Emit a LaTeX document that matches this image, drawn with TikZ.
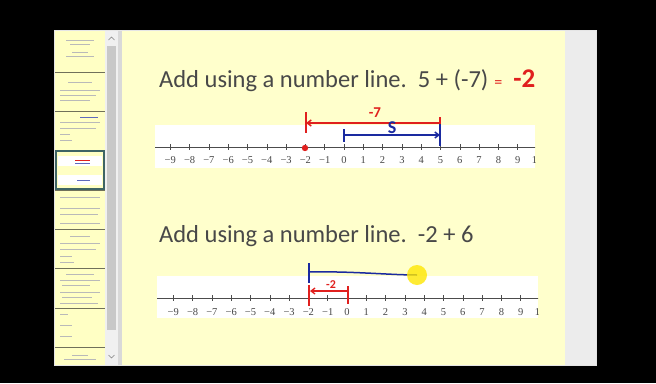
\documentclass[tikz,border=0pt]{standalone}
\usepackage{fontspec}
\setmainfont{Carlito}
\newfontfamily\numfont{Liberation Serif}
\usetikzlibrary{arrows.meta}
\definecolor{slideyellow}{HTML}{FFFFCC}
\definecolor{titlegray}{HTML}{484848}
\definecolor{penred}{HTML}{E0201E}
\definecolor{penblue}{HTML}{1A2AA0}
\definecolor{panelgray}{HTML}{ECECEC}
\definecolor{thumbyellow}{HTML}{FFFFC4}
\definecolor{thumbline}{HTML}{70705A}
\definecolor{selborder}{HTML}{3E6464}
\definecolor{scrollgray}{HTML}{C8C8C8}
\tikzset{
  title/.style={anchor=base west,inner sep=0pt,text=titlegray,font=\fontsize{24.5}{28}\selectfont},
  numlab/.style={inner sep=0pt,font=\numfont\fontsize{10.5}{11}\selectfont,text=titlegray},
  band/.style={fill=white},
  axisline/.style={draw=gray!60!black,line width=0.6pt},
  redpen/.style={draw=penred,line width=1.5pt},
  bluepen/.style={draw=penblue,line width=1.5pt},
  pentip/.style={-{Straight Barb[length=4pt,width=6pt]}},
  hand/.style={inner sep=0pt,font=\bfseries\fontsize{15}{15}\selectfont},
  thumbtext/.style={draw=gray!55,line width=0.5pt}
}
\begin{document}
\begin{tikzpicture}[x=1pt,y=-1pt]
\fill[black] (0,0) rectangle (656,383);
\useasboundingbox (0,0) rectangle (656,383);
% window
\fill[gray!20] (54,30) rectangle (597,366);
\fill[slideyellow] (122,31) rectangle (565,365);
\fill[panelgray] (565,31) rectangle (596,365);
% thumbnails panel
\fill[thumbyellow] (55,31) rectangle (105,365);
\foreach \y in {72,111,150,190,229,268,308,347}
  \draw[thumbline,line width=1pt] (55,\y) -- (105,\y);
% tiny thumbnail texts
\draw[thumbtext] (66,40) -- (94,40) (70,44) -- (90,44) (72,52) -- (88,52) (66,56) -- (94,56);
\draw[thumbtext] (68,82) -- (92,82) (60,90) -- (100,90) (60,95) -- (96,95) (60,100) -- (90,100);
\draw[thumbtext] (60,122) -- (100,122) (60,128) -- (96,128) (60,134) -- (70,134) (60,140) -- (72,140);
\draw[penblue!70,line width=1pt] (80,117) -- (98,117);
\fill[white] (58,156) rectangle (102,166);
\fill[white] (58,175) rectangle (102,185);
\draw[selborder,line width=1.6pt] (56,151) rectangle (104,189);
\draw[penred,line width=1pt] (75,160) -- (90,160);
\draw[penblue!70,line width=1pt] (75,163) -- (90,163);
\draw[penblue!70,line width=1pt] (77,180) -- (90,180);
\draw[thumbtext] (60,197) -- (100,197) (60,208) -- (100,208) (60,214) -- (98,214) (60,223) -- (100,223);
\draw[thumbtext] (70,236) -- (90,236) (60,243) -- (100,243) (60,249) -- (96,249) (60,256) -- (72,256) (60,262) -- (74,262);
\draw[thumbtext] (66,274) -- (94,274) (60,280) -- (100,280) (62,285) -- (90,285) (60,292) -- (100,292) (62,297) -- (92,297) (60,303) -- (98,303);
\draw[thumbtext] (60,314) -- (68,314) (60,325) -- (72,325) (60,336) -- (72,336);
\draw[thumbtext] (72,355) -- (88,355) (64,359) -- (96,359);
% scrollbar
\fill[gray!12] (105,31) rectangle (118,365);
\fill[scrollgray] (107,46) rectangle (116,330);
\draw[gray] (108.5,40) -- (111.5,37) -- (114.5,40);
\draw[gray] (108.5,355) -- (111.5,358) -- (114.5,355);
\fill[gray!30] (118,31) rectangle (122,365);

% ---------- slide 1 -------------
\node[title] (t1) at (159,87) {Add using a number line.\ \ 5 + (-7)};
\node[title,text=penred,anchor=base west] (t1r) at (t1.base east) {\ {\fontsize{16}{16}\selectfont =}\ \ {\bfseries\fontsize{27}{28}\selectfont -2}};
\fill[band] (155,125) rectangle (535,168);
\begin{scope}
\clip (155,120) rectangle (535,172);
\draw[axisline] (155,147) -- (538,147);
\foreach \i in {-10,...,10}
  \draw[axisline] ({344+19.3*\i},144) -- ({344+19.3*\i},150);
\foreach \i in {-9,...,10}
  \node[numlab] at ({344+19.3*\i},160) {\ifnum\i<0 −\the\numexpr-\i\relax\else\i\fi};
\end{scope}
\coordinate (a5) at (440,123);
\coordinate (am2) at (306,123);
\draw[redpen] (440,117) -- (440,129);
\draw[redpen] (306,112) -- (306,133);
\draw[redpen,pentip] (a5) -- (am2);
\node[hand,text=penred] (l7) at (375,113) {-7};
\coordinate (b0) at (344,135);
\coordinate (b5) at (440,135);
\draw[bluepen] (344,129) -- (344,142);
\draw[bluepen] (440,124) -- (440,146);
\draw[bluepen,pentip] (b0) -- (b5);
\node[hand,text=penblue,font=\bfseries\fontsize{18}{18}\selectfont] (l5) at (392,128) {S};
\fill[penred] (305,148) circle (3.2pt);

% ---------- slide 2 -------------
\node[title] (t2) at (159,242) {Add using a number line.\ \ -2 + 6};
\fill[band] (157,276) rectangle (538,318);
\begin{scope}
\clip (157,270) rectangle (538,322);
\draw[axisline] (157,298) -- (540,298);
\foreach \i in {-10,...,10}
  \draw[axisline] ({347+19.3*\i},295) -- ({347+19.3*\i},301);
\foreach \i in {-9,...,10}
  \node[numlab] at ({347+19.3*\i},312) {\ifnum\i<0 −\the\numexpr-\i\relax\else\i\fi};
\end{scope}
\draw[bluepen] (309,263) -- (309,283);
\coordinate (c0) at (309,272);
\coordinate (c1) at (417,275);
\draw[bluepen] (c0) .. controls (350,271) and (390,275) .. (c1);
\fill[yellow!90!orange,opacity=0.8] (c1) circle (10pt);
\draw[redpen,line width=1.3pt] (309,285) -- (309,306);
\draw[redpen,line width=1.3pt] (348,286) -- (348,304);
\coordinate (d0) at (348,291);
\coordinate (d1) at (310,291);
\draw[redpen,line width=1.3pt,pentip] (d0) -- (d1);
\node[hand,text=penred,font=\bfseries\fontsize{12}{12}\selectfont] (l2) at (331,285) {-2};
\end{tikzpicture}
\end{document}
